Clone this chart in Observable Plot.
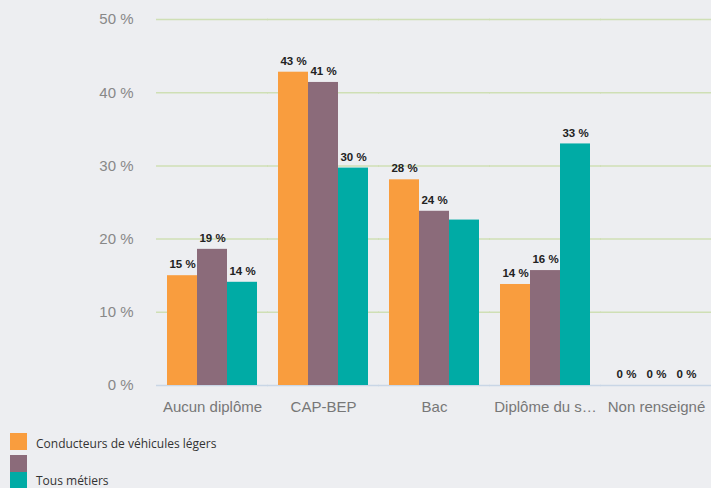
<!DOCTYPE html>
<html>
<head>
<meta charset="utf-8">
<script src="https://cdn.jsdelivr.net/npm/d3@7"></script>
<script src="https://cdn.jsdelivr.net/npm/@observablehq/plot@0.6"></script>
<style>
  html, body { margin: 0; padding: 0; background: #edeef1; }
  body { width: 711px; height: 488px; overflow: hidden; position: relative; }
  #chart svg { display: block; background: #edeef1; }
  #legend { position: absolute; left: 10px; top: 433px; font-family: "Open Sans", sans-serif; font-size: 12px; color: #333; }
  .item { position: relative; height: 17px; }
  .sw { position: absolute; left: 0; top: 0; width: 17px; height: 17px; }
  .lb { position: absolute; left: 26px; top: 2px; white-space: nowrap; line-height: 14px; }
</style>
</head>
<body>
<div id="chart"></div>
<div id="legend"></div>
<script>
const categories = ["Aucun diplôme", "CAP-BEP", "Bac", "Diplôme du supérieur", "Non renseigné"];
const tickLabels = ["Aucun diplôme", "CAP-BEP", "Bac", "Diplôme du s…", "Non renseigné"];
const seriesKeys = ["conducteurs", "autre", "tous"];
const seriesLabels = ["Conducteurs de véhicules légers", "", "Tous métiers"];
const seriesColors = ["#f99d3e", "#8b6b7a", "#00aba5"];
const conducteurs = [15.0, 42.8, 28.1, 13.8, 0];
const autre = [18.6, 41.4, 23.8, 15.7, 0];
const tous = [14.1, 29.7, 22.6, 33.0, 0];
const hiddenLabels = [["Bac", "tous"]];
const yTicks = [0, 10, 20, 30, 40, 50];

const seriesValues = {conducteurs, autre, tous};
const data = [];
categories.forEach((c, i) => {
  seriesKeys.forEach(s => {
    data.push({category: c, series: s, value: seriesValues[s][i]});
  });
});
const labelData = data.filter(d => !hiddenLabels.some(([c, s]) => c === d.category && s === d.series));

const chart = Plot.plot({
  width: 711,
  height: 425,
  marginLeft: 156,
  marginRight: 0,
  marginTop: 19,
  marginBottom: 40,
  style: {background: "#edeef1", fontFamily: "'Liberation Sans', Arial, sans-serif"},
  fx: {domain: categories, paddingInner: 0.19, paddingOuter: 0.095, label: null},
  x: {domain: seriesKeys, padding: 0, axis: null},
  y: {domain: [0, 50], axis: null},
  color: {domain: seriesKeys, range: seriesColors},
  marks: [
    Plot.ruleY(yTicks.filter(t => t > 0), {stroke: "#cfdfb5", strokeWidth: 1.5, insetLeft: -11, insetRight: -11}),
    Plot.ruleY([0], {stroke: "#c9d6e6", strokeWidth: 1.5, insetLeft: -11, insetRight: -11}),
    Plot.barY(data, {fx: "category", x: "series", y: "value", fill: "series"}),
    Plot.text(labelData, {
      fx: "category", x: "series", y: "value",
      text: d => Math.round(d.value) + " %",
      dy: -11, fontWeight: "bold", fontSize: 11.5, fill: "#222"
    }),
    Plot.axisY({
      ticks: yTicks, tickSize: 0, tickPadding: 34,
      tickFormat: d => d + " %", fontSize: 15, color: "#888", label: null
    }),
    Plot.axisFx({
      anchor: "bottom", tickSize: 0, tickPadding: 16,
      tickFormat: d => tickLabels[categories.indexOf(d)],
      fontSize: 15, color: "#777", label: null
    })
  ]
});
document.getElementById("chart").appendChild(chart);

const legend = document.getElementById("legend");
const tops = [0, 22, 39];
seriesKeys.forEach((s, i) => {
  const item = document.createElement("div");
  item.className = "item";
  item.style.position = "absolute";
  item.style.top = tops[i] + "px";
  const sw = document.createElement("div");
  sw.className = "sw";
  sw.style.background = seriesColors[i];
  item.appendChild(sw);
  if (seriesLabels[i]) {
    const lb = document.createElement("div");
    lb.className = "lb";
    lb.style.top = i === 2 ? "2px" : "4px";
    lb.textContent = seriesLabels[i];
    item.appendChild(lb);
  }
  legend.appendChild(item);
});
</script>
</body>
</html>
